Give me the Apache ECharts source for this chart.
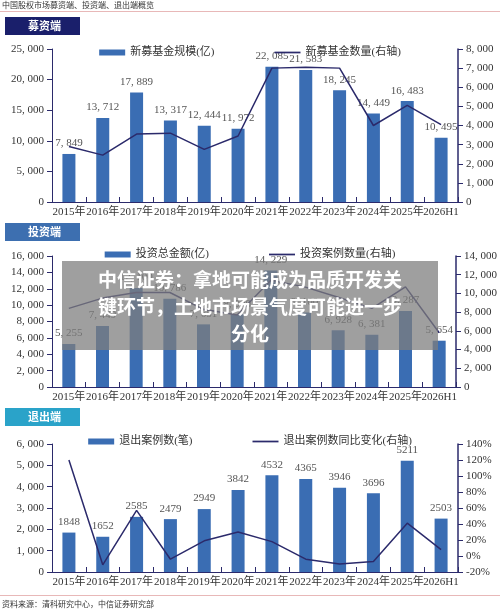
<!DOCTYPE html>
<html><head><meta charset="utf-8">
<script src="https://cdn.jsdelivr.net/npm/echarts@6/dist/echarts.min.js"></script>
<style>
html,body{margin:0;padding:0;background:#fff;}
#c{width:500px;height:612px;}
#ov{position:absolute;left:62px;top:261px;width:376px;height:89px;background:rgba(125,125,125,0.74);color:#fff;font:bold 19px "Noto Sans CJK SC";text-align:center;line-height:27px;padding-top:4px;box-sizing:border-box;}
</style></head><body>
<div id="c"></div>
<div id="ov">中信证券：拿地可能成为品质开发关<br>键环节，土地市场景气度可能进一步<br>分化</div>
<script>
const categories=['2015年','2016年','2017年','2018年','2019年','2020年','2021年','2022年','2023年','2024年','2025年','2026H1'];
const raiseAmount=[7849,13712,17889,13317,12444,11972,22085,21583,18245,14449,16483,10495];
const raiseCount=[2900,2450,3550,3600,2750,3450,7000,7050,7000,4000,5050,4050];
const investAmount=[5255,7449,12100,10786,7651,8900,14229,9100,6928,6381,9287,5654];
const investCount=[8400,9500,10100,10100,8300,7700,11400,10700,9600,8400,10700,5800];
const exitCount=[1848,1652,2585,2479,2949,3842,4532,4365,3946,3696,5211,2503];
const exitYoY=[120,-11,57,-4,19,30,18,-4,-10,-7,41,8];

const F="'Liberation Serif','Noto Sans CJK SC'";
const barC='#3a6db3', lineC='#2b2a6b', axC='#2b2a6b';
const grids=[{top:49,height:153},{top:256,height:131},{top:444,height:128}];
const legTop=[42,244,431];
const leftMax=[25000,16000,6000], leftInt=[5000,2000,1000];
const rightMin=[0,0,-20], rightMax=[8000,14000,140], rightInt=[1000,2000,20];
const fmt=v=>v.toLocaleString('en-US').replace(/,/g,', ');
const xAxis=[],yAxis=[],series=[];
const names=[['新募基金规模(亿)','新募基金数量(右轴)'],['投资总金额(亿)','投资案例数量(右轴)'],['退出案例数(笔)','退出案例数同比变化(右轴)']];
const bars=[raiseAmount,investAmount,exitCount], lines=[raiseCount,investCount,exitYoY];
for(let i=0;i<3;i++){
  xAxis.push({type:'category',gridIndex:i,data:categories,axisLine:{lineStyle:{color:axC}},axisTick:{show:true,inside:true,interval:0,lineStyle:{color:axC}},axisLabel:{color:'#333',fontFamily:F,fontSize:11,interval:0,margin:5}});
  yAxis.push({type:'value',gridIndex:i,min:0,max:leftMax[i],interval:leftInt[i],splitLine:{show:false},axisLine:{show:true,lineStyle:{color:axC}},axisTick:{show:true,lineStyle:{color:axC}},axisLabel:{color:'#333',fontFamily:F,fontSize:11,formatter:v=>fmt(v)}});
  yAxis.push({type:'value',gridIndex:i,position:'right',min:rightMin[i],max:rightMax[i],interval:rightInt[i],splitLine:{show:false},axisLine:{show:true,lineStyle:{color:axC,width:1.5}},axisTick:{show:true,lineStyle:{color:axC}},axisLabel:{color:'#333',fontFamily:F,fontSize:11,formatter:v=>i==2?v+'%':fmt(v)}});
  series.push({name:names[i][0],type:'bar',xAxisIndex:i,yAxisIndex:2*i,data:bars[i],barWidth:13,itemStyle:{color:barC},
    label:{show:true,position:'top',color:'#555',fontFamily:F,fontSize:11,formatter:p=>i==2?p.value:fmt(p.value)}});
  series.push({name:names[i][1],type:'line',xAxisIndex:i,yAxisIndex:2*i+1,data:lines[i],symbol:'none',lineStyle:{color:lineC,width:1.5},itemStyle:{color:lineC},z:5});
}
const legend=grids.map((g,i)=>({top:legTop[i],left:'center',itemGap:60,itemWidth:26,itemHeight:6,data:[{name:names[i][0],icon:'rect'},{name:names[i][1],icon:'path://M0,0L30,0L30,2L0,2Z'}],textStyle:{fontFamily:F,fontSize:11,color:'#333'}}));
const hdr=(y,txt,col)=>[{type:'rect',left:5,top:y,shape:{width:75,height:18},style:{fill:col}},{type:'text',left:28,top:y+3,style:{text:txt,fill:'#fff',font:"bold 11px 'Noto Sans CJK SC'"}}];
const chart=echarts.init(document.getElementById('c'));
chart.setOption({animation:false,
  grid:grids.map(g=>({left:52,right:42,top:g.top,height:g.height})),
  xAxis,yAxis,series,legend,
  graphic:[
    {type:'text',left:2,top:1,style:{text:'中国股权市场募资端、投资端、退出端概览',fill:'#333',font:"8px 'Noto Sans CJK SC'"}},
    {type:'rect',left:0,top:11,shape:{width:500,height:1},style:{fill:'#e8b8b8'}},
    ...hdr(17,'募资端','#1a1f6b'),...hdr(223,'投资端','#3d6fb0'),...hdr(408,'退出端','#2aa3c9'),
    {type:'rect',left:0,top:595,shape:{width:500,height:1},style:{fill:'#e8b8b8'}},
    {type:'text',left:2,top:600,style:{text:'资料来源：清科研究中心，中信证券研究部',fill:'#333',font:"8px 'Noto Sans CJK SC'"}}
  ]});
</script></body></html>
